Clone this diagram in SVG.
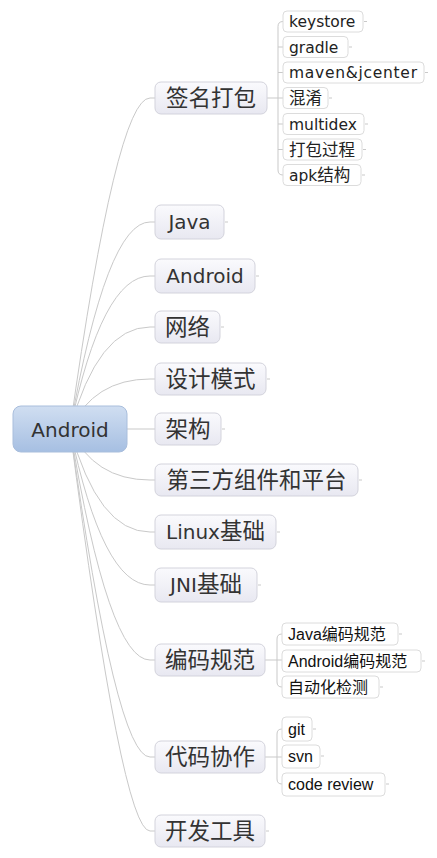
<svg xmlns="http://www.w3.org/2000/svg" width="437" height="858" viewBox="0 0 437 858">
<defs>
<linearGradient id="gRoot" x1="0" y1="0" x2="0" y2="1"><stop offset="0" stop-color="#d0def1"/><stop offset="1" stop-color="#a6bfe2"/></linearGradient>
<linearGradient id="gBr" x1="0" y1="0" x2="0" y2="1"><stop offset="0" stop-color="#fafafd"/><stop offset="1" stop-color="#e8e8f1"/></linearGradient>
</defs>
<style>
.c{fill:none;stroke:#c9c9c9;stroke-width:1}
.br{fill:url(#gBr);stroke:#d3d3dc;stroke-width:1}
.ch{fill:#fff;stroke:#dcdcdc;stroke-width:1}
.tb{font-family:"DejaVu Sans","Noto Sans CJK SC",sans-serif;font-size:20px;fill:#333;text-anchor:middle}
.tc{font-family:"DejaVu Sans","Noto Sans CJK SC",sans-serif;font-size:15.5px;fill:#222}
.ta{font-family:"Liberation Sans","Noto Sans CJK SC",sans-serif;font-size:16px;fill:#111}
.zb{font-size:22.5px}
.zc{font-size:16.5px}
</style>
<g id="connectors">
<path class="c" d="M70,429 Q116.5,98 150,98 L155,98"/>
<path class="c" d="M70,429 Q106.6,222 150,222 L155,222"/>
<path class="c" d="M70,429 Q102,276 150,276 L155,276"/>
<path class="c" d="M70,429 Q98,327 150,327 L155,327"/>
<path class="c" d="M70,429 Q94,379 150,379 L155,379"/>
<path class="c" d="M70,429 L155,429"/>
<path class="c" d="M70,429 Q94,480 150,480 L155,480"/>
<path class="c" d="M70,429 Q98,532 150,532 L155,532"/>
<path class="c" d="M70,429 Q102.5,585 150,585 L155,585"/>
<path class="c" d="M70,429 Q108.5,660 150,660 L155,660"/>
<path class="c" d="M70,429 Q116,757 150,757 L155,757"/>
<path class="c" d="M70,429 Q122,831 150,831 L155,831"/>
<path class="c" d="M267,98 L283,98 M283,21.5 Q278,21.5 278,26.5 L278,170 Q278,175 283,175 M278,47 L283,47 M278,72.5 L283,72.5 M278,124 L283,124 M278,149.5 L283,149.5"/>
<path class="c" d="M265,660 L282,660 M282,634 Q277,634 277,639 L277,682 Q277,687 282,687"/>
<path class="c" d="M265,757 L282,757 M282,729 Q277,729 277,734 L277,779 Q277,784 282,784"/>
<path class="c" d="M364,21.5h3M349,47h3M425,72.5h3M329,98h3M365,124h3M363,149.5h3M362,175h3M225,222h3M256,276h3M221,327h3M267,379h3M222,429h3M359,480h3M277,532h3M258,585h3M399,634h3M422,661h3M380,687h3M313,729h3M321,756h3M386,784h3M266,831h3"/>
</g>
<g id="root"><rect x="13" y="406" width="114" height="46" rx="8" fill="url(#gRoot)" stroke="#a9bedc"/><text class="tb" x="70" y="436.5">Android</text></g>
<g id="n-qmdb"><rect class="br" x="155" y="82" width="112" height="32" rx="6"/><text class="tb zb" x="211" y="106">签名打包</text></g>
<g id="n-java"><rect class="br" x="155" y="205" width="69" height="34" rx="6"/><text class="tb" x="189.5" y="229">Java</text></g>
<g id="n-android"><rect class="br" x="155" y="259" width="100" height="34" rx="6"/><text class="tb" x="205" y="283">Android</text></g>
<g id="n-wl"><rect class="br" x="155" y="311" width="65" height="32" rx="6"/><text class="tb zb" x="187.5" y="335">网络</text></g>
<g id="n-sjms"><rect class="br" x="155" y="363" width="111" height="32" rx="6"/><text class="tb zb" x="210.5" y="387">设计模式</text></g>
<g id="n-jg"><rect class="br" x="155" y="413" width="66" height="32" rx="6"/><text class="tb zb" x="188" y="437">架构</text></g>
<g id="n-dsf"><rect class="br" x="155" y="464" width="203" height="32" rx="6"/><text class="tb zb" x="256.5" y="488">第三方组件和平台</text></g>
<g id="n-linux"><rect class="br" x="155" y="515" width="121" height="34" rx="6"/><text class="tb" x="215.5" y="539">Linux<tspan class="zb">基础</tspan></text></g>
<g id="n-jni"><rect class="br" x="155" y="568" width="102" height="34" rx="6"/><text class="tb" x="206" y="592">JNI<tspan class="zb">基础</tspan></text></g>
<g id="n-bmgf"><rect class="br" x="155" y="644" width="110" height="32" rx="6"/><text class="tb zb" x="210" y="668">编码规范</text></g>
<g id="n-dmxz"><rect class="br" x="155" y="741" width="110" height="32" rx="6"/><text class="tb zb" x="210" y="765">代码协作</text></g>
<g id="n-kfgj"><rect class="br" x="155" y="815" width="110" height="32" rx="6"/><text class="tb zb" x="210" y="839">开发工具</text></g>
<g id="c-keystore"><rect class="ch" x="283" y="11" width="80" height="21" rx="4"/><text class="tc" x="289" y="27">keystore</text></g>
<g id="c-gradle"><rect class="ch" x="283" y="36.5" width="65" height="21" rx="4"/><text class="tc" x="289" y="52.5">gradle</text></g>
<g id="c-maven"><rect class="ch" x="283" y="62" width="141" height="21" rx="4"/><text class="tc" x="289" y="78" textLength="128" lengthAdjust="spacing">maven&amp;jcenter</text></g>
<g id="c-hx"><rect class="ch" x="283" y="87.5" width="45" height="21" rx="4"/><text class="tc zc" x="289" y="104">混淆</text></g>
<g id="c-multidex"><rect class="ch" x="283" y="113.5" width="81" height="21" rx="4"/><text class="tc" x="289" y="129.5">multidex</text></g>
<g id="c-dbgc"><rect class="ch" x="283" y="139" width="79" height="21" rx="4"/><text class="tc zc" x="289" y="155.5">打包过程</text></g>
<g id="c-apk"><rect class="ch" x="283" y="164.5" width="78" height="21" rx="4"/><text class="tc" x="289" y="180.5">apk<tspan class="zc">结构</tspan></text></g>
<g id="c-javabm"><rect class="ch" x="282" y="623" width="116" height="22" rx="4"/><text class="ta" x="288" y="639.5">Java编码规范</text></g>
<g id="c-andbm"><rect class="ch" x="282" y="650" width="139" height="22" rx="4"/><text class="ta" x="288" y="666.5">Android编码规范</text></g>
<g id="c-zdh"><rect class="ch" x="282" y="676" width="97" height="22" rx="4"/><text class="ta" x="288" y="692.5">自动化检测</text></g>
<g id="c-git"><rect class="ch" x="282" y="717" width="30" height="24" rx="4"/><text class="ta" x="288" y="734.5">git</text></g>
<g id="c-svn"><rect class="ch" x="282" y="745" width="38" height="23" rx="4"/><text class="ta" x="288" y="762">svn</text></g>
<g id="c-cr"><rect class="ch" x="282" y="773" width="103" height="23" rx="4"/><text class="ta" x="288" y="790">code review</text></g>
</svg>
